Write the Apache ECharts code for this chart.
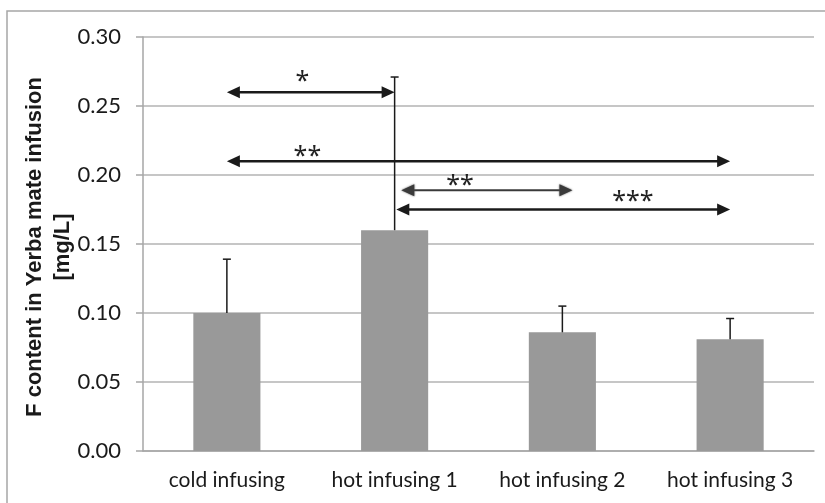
<!DOCTYPE html>
<html>
<head>
<meta charset="utf-8">
<script src="https://cdn.jsdelivr.net/npm/echarts@6/dist/echarts.min.js"></script>
<style>
  html, body { margin: 0; padding: 0; background: #fff; }
  #main { width: 825px; height: 503px; }
</style>
</head>
<body>
<div id="main"></div>
<script>
// categories and values
var categories = ['cold infusing', 'hot infusing 1', 'hot infusing 2', 'hot infusing 3'];
var means = [0.100, 0.160, 0.086, 0.081];
var errUpper = [0.139, 0.271, 0.105, 0.096];

// significance arrows: [from category, to category, level]
var arrowFrom = [0, 0, 1.04, 1.01];
var arrowTo = [1, 3, 2.06, 3];
var arrowLevel = [0.26, 0.21, 0.189, 0.175];
var arrowText = ['*', '**', '**', '***'];
var textX = [0.45, 0.48, 1.39, 2.42];
var textLevel = [0.271, 0.2167, 0.1957, 0.184];

var chart = echarts.init(document.getElementById('main'));

var errData = categories.map(function (c, i) { return [i, means[i], errUpper[i]]; });
var arrowData = arrowFrom.map(function (f, i) { return [f, arrowTo[i], arrowLevel[i], i]; });
var textData = textX.map(function (x, i) { return [x, textLevel[i], arrowText[i]]; });

var option = {
  animation: false,
  backgroundColor: '#fff',
  grid: { left: 143, right: 11, top: 37, bottom: 52 },
  xAxis: [{
    type: 'category',
    data: categories,
    axisLine: { lineStyle: { color: '#a6a6a6', width: 1.5 } },
    axisTick: { length: 6, lineStyle: { color: '#a6a6a6', width: 1.5 } },
    axisLabel: { interval: 0, color: '#1a1a1a', fontSize: 21, fontFamily: 'Lato', margin: 19 }
  }, {
    type: 'value', min: -0.5, max: 3.5, show: false
  }],
  yAxis: {
    type: 'value',
    min: 0, max: 0.30, interval: 0.05,
    axisLine: { show: true, onZero: false, lineStyle: { color: '#a6a6a6', width: 1.5 } },
    axisTick: { show: true, length: 7, lineStyle: { color: '#a6a6a6', width: 1.5 } },
    splitLine: { lineStyle: { color: '#b3b3b3', width: 1.5 } },
    axisLabel: {
      color: '#1a1a1a', fontSize: 22, fontFamily: 'Lato', margin: 22,
      formatter: function (v) { return v.toFixed(2); }
    }
  },
  graphic: [{
    type: 'rect',
    shape: { x: 7, y: 11, width: 830, height: 510 },
    style: { fill: 'none', stroke: '#a6a6a6', lineWidth: 1.5 },
    silent: true
  }, {
    type: 'text',
    x: 49, y: 247,
    rotation: Math.PI / 2,
    style: {
      text: 'F content in Yerba mate infusion\n[mg/L]',
      font: 'bold 22px "Liberation Sans", Arial, sans-serif',
      fill: '#1a1a1a',
      align: 'center',
      verticalAlign: 'middle',
      lineHeight: 28
    }
  }],
  series: [{
    type: 'bar',
    data: means,
    barWidth: '40%',
    itemStyle: { color: '#999999' },
    z: 2
  }, {
    type: 'custom',
    xAxisIndex: 1,
    data: arrowData,
    z: 3,
    renderItem: function (params, api) {
      var p1 = api.coord([api.value(0), api.value(2)]);
      var p2 = api.coord([api.value(1), api.value(2)]);
      var faint = api.value(3) === 2;
      var col = faint ? '#3a3a3a' : '#1a1a1a';
      var hl = 13, hw = 6;
      return {
        type: 'group',
        children: [{
          type: 'line',
          shape: { x1: p1[0] + hl - 2, y1: p1[1], x2: p2[0] - hl + 2, y2: p2[1] },
          style: { stroke: col, lineWidth: faint ? 2 : 2.5 }
        }, {
          type: 'polygon',
          shape: { points: [[p1[0], p1[1]], [p1[0] + hl, p1[1] - hw], [p1[0] + hl, p1[1] + hw]] },
          style: { fill: col, shadowBlur: faint ? 2 : 0, shadowColor: '#555' }
        }, {
          type: 'polygon',
          shape: { points: [[p2[0], p2[1]], [p2[0] - hl, p2[1] - hw], [p2[0] - hl, p2[1] + hw]] },
          style: { fill: col, shadowBlur: faint ? 2 : 0, shadowColor: '#555' }
        }]
      };
    }
  }, {
    type: 'custom',
    xAxisIndex: 1,
    data: textData,
    z: 3,
    renderItem: function (params, api) {
      var p = api.coord([api.value(0), api.value(1)]);
      return {
        type: 'text',
        x: p[0], y: p[1] + 5,
        style: {
          text: textData[params.dataIndex][2],
          font: '25px "Noto Sans", sans-serif',
          fill: '#222',
          align: 'center',
          verticalAlign: 'middle'
        }
      };
    }
  }, {
    type: 'custom',
    data: errData,
    z: 4,
    renderItem: function (params, api) {
      var base = api.coord([api.value(0), api.value(1)]);
      var top = api.coord([api.value(0), api.value(2)]);
      var cap = 4;
      return {
        type: 'group',
        children: [{
          type: 'line',
          shape: { x1: base[0], y1: base[1], x2: top[0], y2: top[1] },
          style: { stroke: '#1a1a1a', lineWidth: 1.5 }
        }, {
          type: 'line',
          shape: { x1: top[0] - cap, y1: top[1], x2: top[0] + cap, y2: top[1] },
          style: { stroke: '#1a1a1a', lineWidth: 1.5 }
        }]
      };
    }
  }]
};

chart.setOption(option);
</script>
</body>
</html>
